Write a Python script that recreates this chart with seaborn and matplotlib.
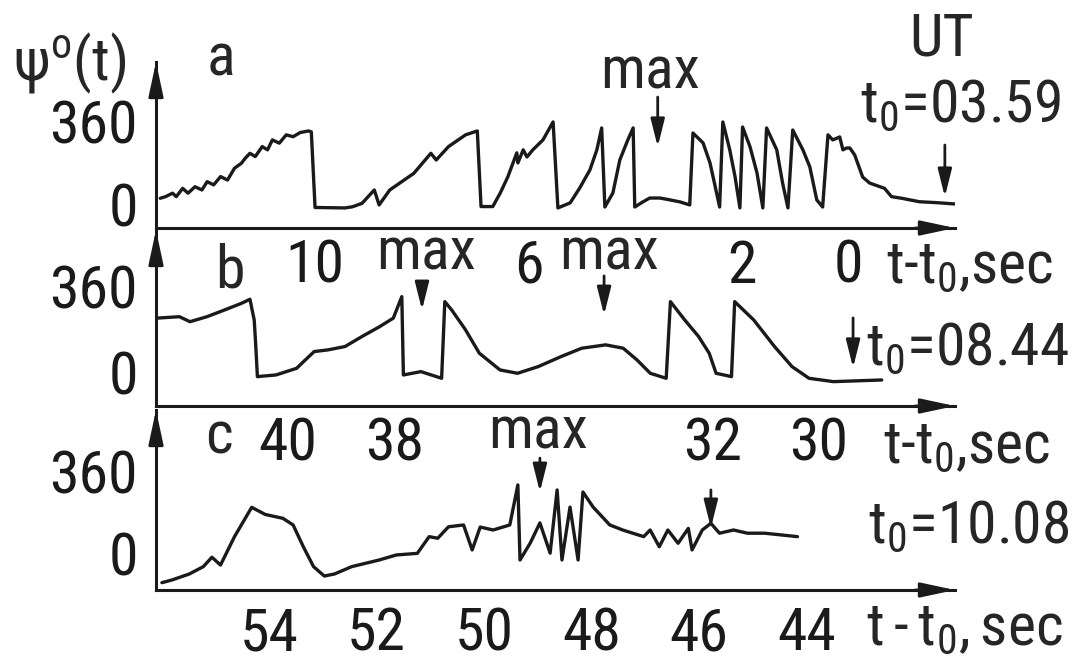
#!/usr/bin/env python3
# -*- coding: utf-8 -*-
"""
Phase psi(t) of the three events a, b, c (UT t0 = 03.59, 08.44, 10.08)
"""
import matplotlib
matplotlib.use('Agg')
import matplotlib.pyplot as plt
import matplotlib.transforms as mtransforms
from matplotlib import font_manager as fm
import seaborn as sns

# ============ DATA ============
# panel a : t - t0 (sec), psi (deg)
t_a = [12.90, 12.80, 12.67, 12.60, 12.48, 12.38, 12.25, 12.12, 12.02, 11.90,
       11.77, 11.64, 11.51, 11.38, 11.31, 11.22, 11.12, 10.99, 10.89, 10.80,
       10.67, 10.54, 10.41, 10.28, 10.12, 10.07, 10.00, 9.44, 9.30, 9.12,
       8.89, 8.80, 8.60, 8.40, 8.15, 7.83, 7.73, 7.50, 7.18, 6.96,
       6.89, 6.67, 6.53, 6.39, 6.22, 6.20, 6.10, 6.03, 5.92, 5.73,
       5.54, 5.45, 5.22, 5.04, 4.85, 4.72, 4.63, 4.57, 4.42, 4.29,
       4.14, 4.04, 4.01, 3.86, 3.73, 3.54, 3.35, 3.16, 2.98, 2.92,
       2.73, 2.60, 2.51, 2.42, 2.36, 2.23, 2.13, 2.04, 1.99, 1.85,
       1.72, 1.61, 1.54, 1.35, 1.24, 1.14, 1.05, 0.86, 0.73, 0.60,
       0.49, 0.39, 0.30, 0.17, 0.11, 0.04, -0.02, -0.11, -0.26, -0.39,
       -0.67, -0.80, -0.99, -1.32, -1.64, -2.00]
psi_a = [42, 49, 64, 49, 85, 64, 92, 78, 114, 100,
         136, 121, 172, 194, 215, 237, 223, 266, 252, 295,
         281, 317, 309, 327, 334, 330, 2, 0, 5, 20,
         78, 13, 78, 110, 150, 237, 208, 266, 317, 334,
         6, 6, 65, 134, 239, 195, 252, 221, 252, 295,
         373, 0, 22, 87, 165, 252, 347, 4, 65, 208,
         295, 347, 4, 26, 43, 43, 35, 26, 13, 325,
         282, 195, 100, 4, 373, 252, 134, 0, 351, 265,
         152, 0, 347, 252, 108, 0, 338, 252, 178, 35,
         4, 317, 295, 308, 252, 260, 260, 230, 134, 108,
         85, 49, 42, 27, 23, 17]

# panel b
t_b = [42.47, 42.05, 41.85, 41.53, 41.20, 40.88, 40.72, 40.64, 40.61, 40.58,
       40.23, 39.84, 39.71, 39.51, 39.25, 38.93, 38.61, 38.28, 38.02, 37.86,
       37.83, 37.50, 37.11, 37.05, 36.92, 36.66, 36.40, 36.01, 35.68, 35.29,
       34.86, 34.47, 34.02, 33.69, 33.43, 33.18, 32.88, 32.80, 32.53, 32.27,
       32.07, 31.94, 31.65, 31.59, 31.23, 30.84, 30.51, 30.19, 29.73, 28.82]
psi_b = [288, 294, 273, 294, 322, 350, 367, 280, 169, 43,
         50, 78, 106, 148, 155, 169, 211, 252, 288, 378,
         50, 64, 36, 357, 322, 239, 141, 71, 57, 85,
         127, 162, 176, 162, 113, 57, 36, 357, 280, 211,
         141, 57, 43, 357, 280, 169, 85, 36, 22, 29]

# panel c
t_c = [55.99, 55.80, 55.48, 55.22, 55.06, 54.90, 54.64, 54.32, 54.07, 53.74,
       53.55, 53.36, 53.17, 52.97, 52.78, 52.46, 51.95, 51.63, 51.24, 51.02,
       50.86, 50.66, 50.38, 50.22, 50.07, 49.83, 49.52, 49.37, 49.33, 49.14,
       48.96, 48.77, 48.64, 48.55, 48.40, 48.25, 48.16, 47.97, 47.66, 47.42,
       47.03, 46.91, 46.74, 46.58, 46.39, 46.20, 46.13, 45.94, 45.78, 45.62,
       45.36, 45.10, 44.78, 44.17]
psi_c = [-74, -62, -36, -4, 37, 3, 127, 255, 224, 207,
         178, 83, -4, -45, -36, -4, 25, 47, 54, 127,
         120, 170, 178, 69, 169, 156, 178, 353, 25, 99,
         187, 55, 331, 25, 256, 25, 322, 256, 178, 156,
         127, 156, 83, 156, 98, 163, 69, 156, 185, 142,
         156, 142, 142, 127]

# tick positions and the labelled ones
ticks_a = [12, 11, 10, 9, 8, 7, 6, 5, 4, 3, 2, 1, 0, -1]
labels_a = [10, 6, 2, 0]
ticks_b = [41, 40, 39, 38, 37, 36, 35, 34, 33, 32, 31, 30, 29]
labels_b = [40, 38, 32, 30]
ticks_c = [55, 54, 53, 52, 51, 50, 49, 48, 47, 46, 45, 44, 43]
labels_c = [54, 52, 50, 48, 46, 44]
ut_labels = ['t$_0$=03.59', 't$_0$=08.44', 't$_0$=10.08']

# ============ STYLE ============
sns.set_theme(style='white')
_names = {f.name for f in fm.fontManager.ttflist}
_pref = ['Liberation Sans Narrow', 'Roboto Condensed', 'Open Sans Condensed',
         'Noto Sans Condensed', 'DejaVu Sans Condensed']
_pref += sorted(n for n in _names if ('Narrow' in n or 'Condensed' in n)
                and 'CJK' not in n)
FAMILY = next((n for n in _pref if n in _names), 'Liberation Sans')
NARROW = FAMILY != 'Liberation Sans'
plt.rcParams['font.family'] = [FAMILY, 'DejaVu Sans']
plt.rcParams['mathtext.default'] = 'regular'
plt.rcParams['axes.unicode_minus'] = False

FS = 43 if NARROW else 40
FS_R = 43 if NARROW else 38
W, H = 1079, 669
fig = plt.figure(figsize=(W / 100, H / 100), dpi=100)
fig.patch.set_facecolor('white')


def px(x, y):
    """pixel position -> figure fraction"""
    return x / W, 1 - y / H


def arrow(ax, tail, head, scale=12, hl=1.4, hw=0.35, coords='data'):
    ax.annotate('', xy=head, xytext=tail, xycoords=coords, textcoords=coords,
                arrowprops=dict(arrowstyle=f'-|>,head_length={hl},head_width={hw}',
                                color='k', lw=2, mutation_scale=scale,
                                shrinkA=0, shrinkB=0),
                annotation_clip=False)


# rect, xlim, ylim, ticks, labels, x label pad, y label shift (pt)
panels = [
    ((156, 62, 228), (12.98, -1.99), (-87, 633), ticks_a, labels_a, 7, 3, t_a, psi_a),
    ((156, 230, 406), (42.49, 27.44), (-80, 657), ticks_b, labels_b, 7, 11, t_b, psi_b),
    ((156, 410, 590), (56.10, 41.24), (-106, 680), ticks_c, labels_c, 11, 9, t_c, psi_c),
]

axes = []
for (x0, ytop, ybot), xlim, ylim, ticks, labs, xpad, yshift, t, psi in panels:
    l, b = px(x0, ybot)
    _, tp = px(x0, ytop)
    ax = fig.add_axes([l, b, (955 - x0) / W, tp - b])
    ax.set_facecolor('none')
    sns.lineplot(x=t, y=psi, ax=ax, color='k', lw=2.4, sort=False, estimator=None)
    ax.set_xlim(*xlim)
    ax.set_ylim(*ylim)
    ax.set_xlabel('')
    ax.set_ylabel('')
    for s in ['top', 'right']:
        ax.spines[s].set_visible(False)
    for s in ['left', 'bottom']:
        ax.spines[s].set_linewidth(2.2)
        ax.spines[s].set_color('k')
    ax.set_xticks(ticks)
    ax.set_xticklabels([str(v) if v in labs else '' for v in ticks])
    ax.set_yticks([0, 360])
    ax.set_yticklabels(['0', '360'])
    ax.tick_params(axis='x', direction='in', length=5, width=2, pad=xpad,
                   labelsize=FS, colors='k')
    ax.tick_params(axis='y', direction='in', length=7, width=2, pad=13,
                   labelsize=FS, colors='k')
    off = mtransforms.ScaledTranslation(0, yshift / 72, fig.dpi_scale_trans)
    for lab in ax.get_yticklabels():
        lab.set_transform(lab.get_transform() + off)
    # arrow heads on both axes
    arrow(ax, (0.95, 0), (1, 0), scale=15, hl=1.4, hw=0.3, coords='axes fraction')
    arrow(ax, (0, 0.9), (0, 1), scale=15, hl=1.4, hw=0.3, coords='axes fraction')
    axes.append(ax)

ax_a, ax_b, ax_c = axes

# ============ ANNOTATIONS ============
ax_a.text(3.73, 520, 'max', fontsize=FS, ha='center', va='baseline')
arrow(ax_a, (3.58, 481), (3.58, 265))
arrow(ax_a, (-1.80, 273), (-1.80, 48))

ax_b.text(37.40, 490, 'max', fontsize=FS, ha='center', va='baseline')
arrow(ax_b, (37.48, 440), (37.48, 322))
ax_b.text(33.95, 490, 'max', fontsize=FS, ha='center', va='baseline')
arrow(ax_b, (34.05, 465), (34.05, 301))
arrow(ax_b, (29.36, 289), (29.36, 80))

ax_c.text(49.0, 514, 'max', fontsize=FS, ha='center', va='baseline')
arrow(ax_c, (48.96, 470), (48.96, 322))
arrow(ax_c, (45.78, 331), (45.78, 165))

# ============ TEXTS ============
fig.text(*px(13, 80), r'ψ$^{o}$(t)', fontsize=FS, ha='left', va='baseline')
fig.text(*px(207, 75), 'a', fontsize=FS, ha='left', va='baseline')
fig.text(*px(215, 288), 'b', fontsize=FS, ha='left', va='baseline')
fig.text(*px(205, 453), 'c', fontsize=FS, ha='left', va='baseline')

fig.text(*px(942, 55), 'UT', fontsize=FS, ha='center', va='baseline')
fig.text(*px(860, 122), ut_labels[0], fontsize=FS_R, ha='left', va='baseline')
fig.text(*px(866, 365), ut_labels[1], fontsize=FS_R, ha='left', va='baseline')
fig.text(*px(868, 543), ut_labels[2], fontsize=FS_R, ha='left', va='baseline')

fig.text(*px(886, 283), 't-t$_0$,sec', fontsize=FS_R, ha='left', va='baseline')
fig.text(*px(883, 463), 't-t$_0$,sec', fontsize=FS_R, ha='left', va='baseline')
fig.text(*px(866, 645), r't$\,$-$\,$t$_0$,$\,$sec', fontsize=FS_R,
         ha='left', va='baseline')

fig.savefig('out.png', dpi=100, facecolor='white')
plt.close(fig)
print('ok')
